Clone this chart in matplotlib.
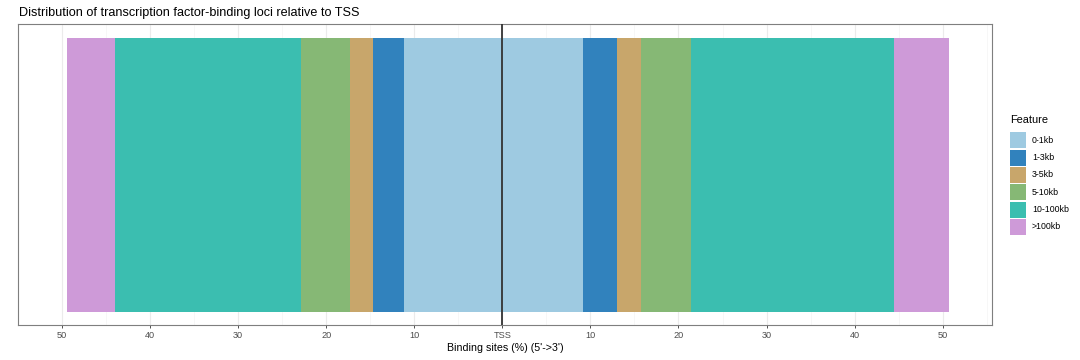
import matplotlib
matplotlib.use("Agg")
import matplotlib.pyplot as plt
from matplotlib.patches import Rectangle

plt.rcParams['font.family'] = ['Liberation Sans', 'DejaVu Sans']

features = ["0-1kb", "1-3kb", "3-5kb", "5-10kb", "10-100kb", ">100kb"]
colors = ["#9ECAE1", "#3182BD", "#C8A66B", "#86B875", "#3BBEB0", "#CE9AD8"]
upstream = [11.17, 3.50, 2.60, 5.63, 21.10, 5.38]     # % of sites, 5' side
downstream = [9.14, 3.84, 2.71, 5.75, 23.03, 6.26]    # % of sites, 3' side
tick_vals = [-50, -40, -30, -20, -10, 0, 10, 20, 30, 40, 50]
title = "Distribution of transcription factor-binding loci relative to TSS"
xlabel = "Binding sites (%) (5'->3')"
legend_title = "Feature"

W, H = 1080, 360
fig = plt.figure(figsize=(W / 100, H / 100), dpi=100)
ax = fig.add_axes([18 / W, 1 - 325 / H, (992 - 18) / W, (325 - 24) / H])

left = 0.0
for v, c in zip(upstream, colors):
    ax.barh(0, -v, left=left, height=1.0, color=c, linewidth=0, zorder=2)
    left -= v
right = 0.0
for v, c in zip(downstream, colors):
    ax.barh(0, v, left=right, height=1.0, color=c, linewidth=0, zorder=2)
    right += v

ax.set_xlim(-54.45, 55.6)
ax.set_ylim(-0.5 - 13 / 274, 0.5 + 14 / 274)

ax.axvline(0, color="#333333", linewidth=1.3, zorder=3)

ax.set_xticks(tick_vals)
ax.set_xticklabels(["TSS" if t == 0 else str(abs(t)) for t in tick_vals],
                   fontsize=6.6, color="#4D4D4D")
ax.set_xticks([t + 5 for t in tick_vals[:-1]] + [-55, 55], minor=True)
ax.tick_params(axis="x", which="major", length=2.5, width=0.6, color="#333333", pad=2)
ax.tick_params(axis="x", which="minor", length=0)
ax.set_yticks([])
ax.grid(True, axis="x", which="major", color="#EBEBEB", linewidth=0.8, zorder=0)
ax.grid(True, axis="x", which="minor", color="#F4F4F4", linewidth=0.5, zorder=0)
ax.set_axisbelow(True)
for s in ax.spines.values():
    s.set_color("#7F7F7F")
    s.set_linewidth(0.8)

fig.text(505 / W, 1 - 348 / H, xlabel, fontsize=7.7, ha="center", va="center")
fig.text(19 / W, 1 - 16 / H, title, fontsize=9.1, ha="left", va="baseline")

# legend
fig.text(1010 / W, 1 - 120.5 / H, legend_title, fontsize=7.9, ha="left", va="center")
for i, (f, c) in enumerate(zip(features, colors)):
    top = 132.3 + i * 17.3
    fig.patches.append(Rectangle((1010 / W, 1 - (top + 16) / H), 16 / W, 16 / H,
                                 transform=fig.transFigure, facecolor=c,
                                 edgecolor="none"))
    fig.text(1032 / W, 1 - (top + 8) / H, f, fontsize=6.3, ha="left", va="center")

fig.savefig("out.png", dpi=100)
